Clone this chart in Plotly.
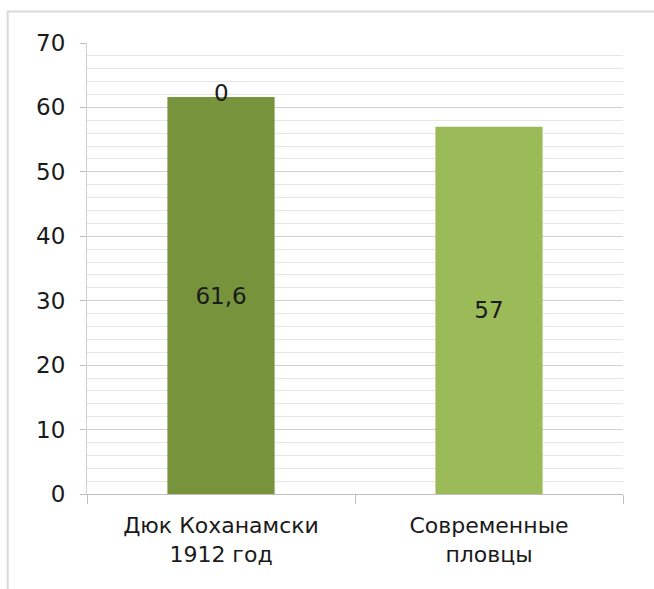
import plotly.graph_objects as go

# Data
categories = ["Дюк Коханамски<br>1912 год", "Современные<br>пловцы"]
speeds = [61.6, 57]
bar_colors = ["#77933C", "#9BBB59"]
extra_series = [0]  # second stacked series, present only for the first category
y_ticks = [0, 10, 20, 30, 40, 50, 60, 70]


def fmt(v):
    return f"{v:g}".replace(".", ",")


FONT = "DejaVu Sans, Arial, sans-serif"
TEXT_COLOR = "#1a1a1a"
FS = 23

fig = go.Figure()
fig.add_trace(go.Bar(
    x=categories,
    y=speeds,
    marker=dict(color=bar_colors, line=dict(width=0)),
    width=0.4,
    text=[fmt(v) for v in speeds],
    textposition="inside",
    insidetextanchor="middle",
    textangle=0,
    textfont=dict(family=FONT, size=FS, color=TEXT_COLOR),
    showlegend=False,
    hoverinfo="skip",
))

# label of the zero-height stacked series on top of the first bar
for i, v in enumerate(extra_series):
    fig.add_annotation(
        x=categories[i], y=speeds[i] + v, text=fmt(v),
        showarrow=False, yshift=4,
        font=dict(family=FONT, size=FS, color=TEXT_COLOR),
    )

# outer chart border
fig.add_shape(type="rect", xref="paper", yref="paper",
              x0=-0.148, x1=1.08, y0=-0.22, y1=1.07,
              line=dict(color="#d9d9d9", width=2), layer="below")

fig.update_layout(
    width=654, height=589,
    margin=dict(l=87, r=31, t=43, b=95),
    paper_bgcolor="white", plot_bgcolor="white",
    bargap=0.6,
    font=dict(family=FONT, color=TEXT_COLOR),
    showlegend=False,
)
fig.update_xaxes(
    showgrid=False,
    showline=True, linecolor="#bfbfbf", linewidth=1,
    ticks="outside", ticklen=9, tickcolor="#bfbfbf",
    tickson="boundaries",
    tickfont=dict(family=FONT, size=FS - 1, color=TEXT_COLOR),
    ticklabelstandoff=12,
)
fig.update_yaxes(
    range=[0, 70],
    tickvals=y_ticks,
    showgrid=True, gridcolor="#d0d0d0", gridwidth=1,
    minor=dict(dtick=2, showgrid=True, gridcolor="#e6e6e6", gridwidth=1),
    showline=True, linecolor="#d0d0d0", linewidth=1,
    ticks="outside", ticklen=6, tickcolor="#bfbfbf",
    tickfont=dict(family=FONT, size=FS, color=TEXT_COLOR),
    ticklabelstandoff=10,
    zeroline=False,
)

fig.write_html("out.html")
